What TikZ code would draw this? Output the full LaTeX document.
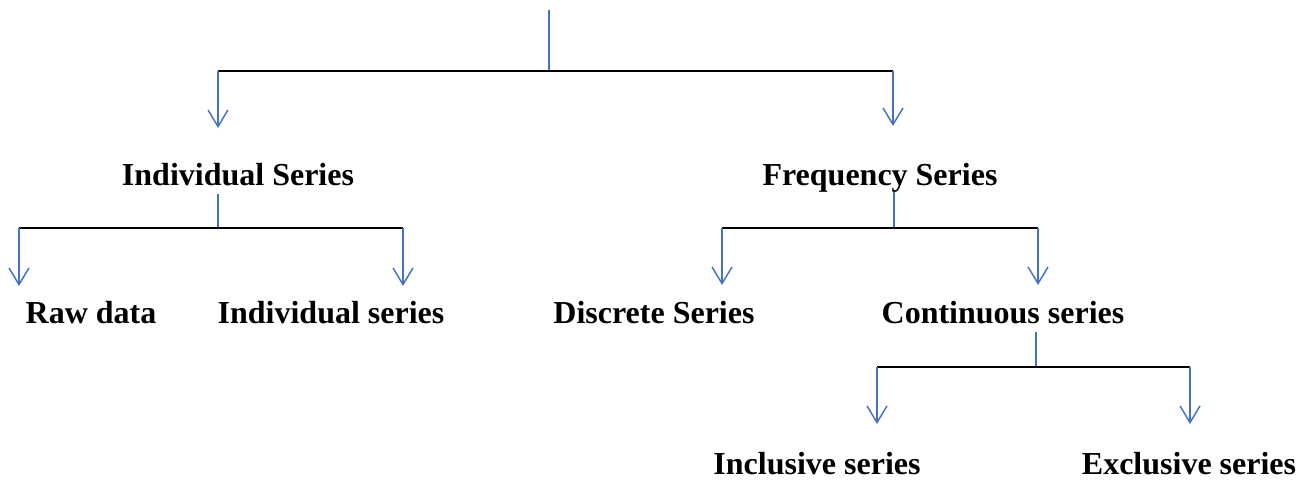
\documentclass[tikz,border=0pt]{standalone}
\usepackage{fontspec}
\setmainfont{Liberation Serif}
\usetikzlibrary{arrows.meta}
\definecolor{lineblue}{RGB}{68,114,196}
\tikzset{
  lbl/.style={font=\bfseries\fontsize{24}{28}\selectfont, anchor=base, inner sep=0pt},
  stem/.style={draw=lineblue, line width=1.1pt},
  bar/.style={draw=black, line width=1.3pt},
  arr/.style={draw=lineblue, line width=1.1pt, -{Straight Barb[length=12.5pt,width=15pt,line width=1.1pt]}}
}
\begin{document}
\begin{tikzpicture}[x=0.75pt,y=-0.75pt]
\useasboundingbox (0,0) rectangle (1306,479);
% labels
\node[lbl] (IS) at (238,185) {Individual Series};
\node[lbl] (FS) at (880,185) {Frequency Series};
\node[lbl] (RD) at (91,323) {Raw data};
\node[lbl] (IN) at (331,323) {Individual series};
\node[lbl] (DS) at (654,323) {Discrete Series};
\node[lbl] (CS) at (1003,323) {Continuous series};
\node[lbl] (IC) at (817,474.5) {Inclusive series};
\node[lbl] (EX) at (1189,474.5) {Exclusive series};
% level 0
\coordinate (top) at (549,10);
\coordinate (j0) at (549,71);
\coordinate (j0l) at (218,71);
\coordinate (j0r) at (893,71);
\coordinate (t0l) at (218,128);
\coordinate (t0r) at (893,126);
\draw[stem] (top) -- (j0);
\draw[bar] (j0l) -- (j0r);
\draw[arr] (j0l) -- (t0l);
\draw[arr] (j0r) -- (t0r);
% Individual Series
\coordinate (s1) at (218,194);
\coordinate (j1) at (218,228);
\coordinate (j1l) at (19,228);
\coordinate (j1r) at (403,228);
\coordinate (t1l) at (19,286);
\coordinate (t1r) at (403,286);
\draw[stem] (s1) -- (j1);
\draw[bar] (j1l) -- (j1r);
\draw[arr] (j1l) -- (t1l);
\draw[arr] (j1r) -- (t1r);
% Frequency Series
\coordinate (s2) at (894,192);
\coordinate (j2) at (894,228);
\coordinate (j2l) at (722,228);
\coordinate (j2r) at (1038,228);
\coordinate (t2l) at (722,285);
\coordinate (t2r) at (1038,285);
\draw[stem] (s2) -- (j2);
\draw[bar] (j2l) -- (j2r);
\draw[arr] (j2l) -- (t2l);
\draw[arr] (j2r) -- (t2r);
% Continuous series
\coordinate (s3) at (1036,332);
\coordinate (j3) at (1036,367);
\coordinate (j3l) at (877,367);
\coordinate (j3r) at (1190,367);
\coordinate (t3l) at (877,424);
\coordinate (t3r) at (1190,424);
\draw[stem] (s3) -- (j3);
\draw[bar] (j3l) -- (j3r);
\draw[arr] (j3l) -- (t3l);
\draw[arr] (j3r) -- (t3r);
\end{tikzpicture}
\end{document}
